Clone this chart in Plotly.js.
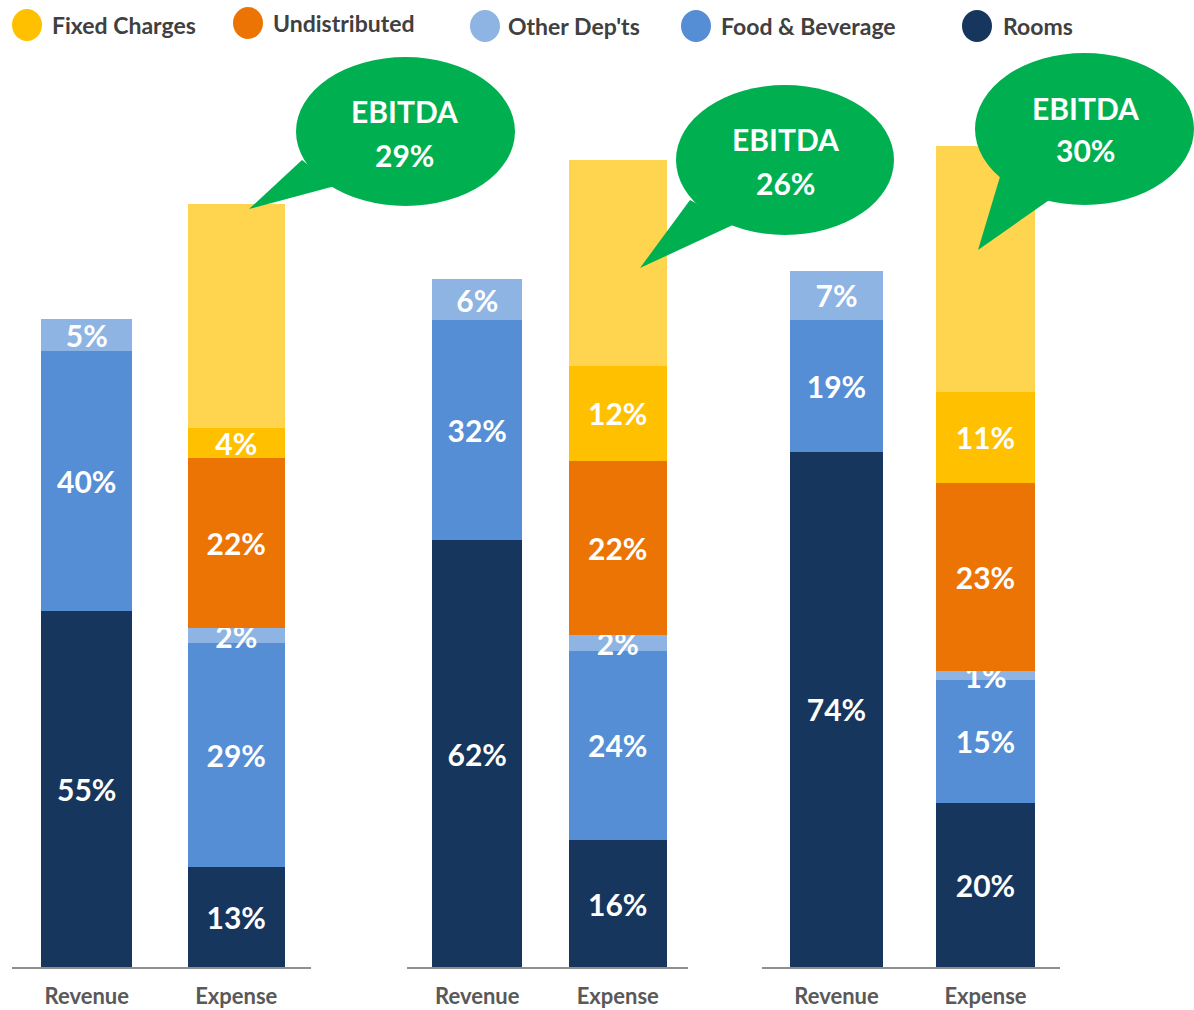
<!DOCTYPE html>
<html>
<head>
<meta charset="utf-8">
<script src="https://cdn.plot.ly/plotly-3.0.1.min.js"></script>
<style>html,body{margin:0;padding:0;background:#fff;}#chart{width:1194px;height:1010px;}</style>
</head>
<body>
<div id="chart"></div>
<script>
// ---- data ----
const barCategories = ['Revenue', 'Expense'];
const segmentNames = ['Rooms', 'Food & Beverage', "Other Dep'ts", 'Undistributed', 'Fixed Charges', 'EBITDA'];
// revenue mix (%) per group: Rooms, F&B, Other
const revenuePct = [[55, 40, 5], [62, 32, 6], [74, 19, 7]];
// expense mix (%) per group: Rooms, F&B, Other, Undistributed, Fixed, EBITDA
const expensePct = [[13, 29, 2, 22, 4, 29], [16, 24, 2, 22, 12, 26], [20, 15, 1, 23, 11, 30]];
// overall bar size (arbitrary units, as drawn)
const revenueTotal = [648, 688, 696];
const expenseTotal = [763, 807, 821];
const legendNames = ['Fixed Charges', 'Undistributed', "Other Dep'ts", 'Food & Beverage', 'Rooms'];

// ---- style ----
const colors = {
  'Rooms': '#17365D', 'Food & Beverage': '#558ED5', "Other Dep'ts": '#8DB4E2',
  'Undistributed': '#EC7405', 'Fixed Charges': '#FFC000', 'EBITDA': '#FFD550'
};
const FONT = 'Lato, "Open Sans", sans-serif';
const W = 1194, H = 1010, PLOT_H = 967;
const px = x => x / W;
const py = y => (PLOT_H - y) / PLOT_H;

const domains = [[12, 311], [407, 688], [762, 1060]];
const widths = [[0.61, 0.65], [0.64, 0.70], [0.62, 0.66]];

const traces = [];
for (let g = 0; g < 3; g++) {
  const rSum = revenuePct[g].reduce((a, b) => a + b, 0);
  const eSum = expensePct[g].reduce((a, b) => a + b, 0);
  const xa = g === 0 ? 'x' : 'x' + (g + 1);
  segmentNames.forEach((name, i) => {
    const rv = i < 3 ? revenuePct[g][i] : null;
    const ev = expensePct[g][i];
    traces.push({
      type: 'bar', xaxis: xa, yaxis: 'y', name: name, showlegend: false,
      x: barCategories,
      y: [rv === null ? null : rv / rSum * revenueTotal[g], ev / eSum * expenseTotal[g]],
      width: widths[g],
      text: name === 'EBITDA' ? ['', ''] : [rv === null ? '' : rv + '%', ev + '%'],
      texttemplate: '%{text}',
      textposition: 'inside', insidetextanchor: 'middle', constraintext: 'none', textangle: 0,
      textfont: {family: FONT, size: 30, color: '#ffffff', weight: 'bold'},
      marker: {color: colors[name], line: {width: 0}},
      hoverinfo: 'skip', cliponaxis: false
    });
  });
}

const axisBase = {
  type: 'category', showgrid: false, zeroline: false, showline: true,
  linecolor: '#8f8f8f', linewidth: 2, ticks: 'outside', ticklen: 9,
  tickcolor: 'rgba(0,0,0,0)', fixedrange: true,
  tickfont: {family: FONT, size: 22, color: '#595959', weight: 'bold'}
};
const layout = {
  width: W, height: H, margin: {l: 0, r: 0, t: 0, b: H - PLOT_H},
  paper_bgcolor: '#ffffff', plot_bgcolor: '#ffffff',
  barmode: 'stack', showlegend: false,
  yaxis: {range: [0, PLOT_H], visible: false, fixedrange: true},
  shapes: [], annotations: []
};
domains.forEach((d, g) => {
  const key = g === 0 ? 'xaxis' : 'xaxis' + (g + 1);
  layout[key] = Object.assign({}, axisBase, {domain: [px(d[0]), px(d[1])], anchor: 'y'});
});

// legend (circles + text)
const legendPos = [[27, 25, 50], [248, 23, 271], [485, 26, 506], [696, 26, 719], [977, 26, 1001]];
legendNames.forEach((n, i) => {
  const [cx, cy, tx] = legendPos[i];
  layout.shapes.push({type: 'circle', xref: 'paper', yref: 'paper',
    x0: px(cx - 15), x1: px(cx + 15), y0: py(cy - 16), y1: py(cy + 16),
    fillcolor: colors[n], line: {width: 0}});
  layout.annotations.push({xref: 'paper', yref: 'paper', x: px(tx), y: py(cy),
    xanchor: 'left', yanchor: 'middle', showarrow: false, text: n,
    font: {family: FONT, size: 23, color: '#404040', weight: 'bold'}});
});

// EBITDA callouts
const bubbles = [
  {x0: 296, x1: 515, y0: 57, y1: 206, tail: 'M302,160 L249,209 L335,186 Z', cx: 404, ty1: 111, ty2: 155},
  {x0: 676, x1: 894, y0: 85, y1: 235, tail: 'M690,200 L640,268 L735,224 Z', cx: 785, ty1: 139, ty2: 183},
  {x0: 975, x1: 1194, y0: 53, y1: 205, tail: 'M1002,170 L978,250 L1055,196 Z', cx: 1085, ty1: 108, ty2: 150}
];
const pathPaper = p => p.replace(/(\d+),(\d+)/g, (m, a, b) => px(+a) + ',' + py(+b));
bubbles.forEach((b, g) => {
  layout.shapes.push({type: 'path', xref: 'paper', yref: 'paper', path: pathPaper(b.tail),
    fillcolor: '#00B050', line: {width: 0}});
  layout.shapes.push({type: 'circle', xref: 'paper', yref: 'paper',
    x0: px(b.x0), x1: px(b.x1), y0: py(b.y1), y1: py(b.y0),
    fillcolor: '#00B050', line: {width: 0}});
  layout.annotations.push({xref: 'paper', yref: 'paper', x: px(b.cx), y: py(b.ty1),
    xanchor: 'center', yanchor: 'middle', showarrow: false, text: 'EBITDA',
    font: {family: FONT, size: 30, color: '#ffffff', weight: 'bold'}});
  layout.annotations.push({xref: 'paper', yref: 'paper', x: px(b.cx), y: py(b.ty2),
    xanchor: 'center', yanchor: 'middle', showarrow: false, text: expensePct[g][5] + '%',
    font: {family: FONT, size: 30, color: '#ffffff', weight: 'bold'}});
});

Plotly.newPlot('chart', traces, layout, {displayModeBar: false, staticPlot: true});
</script>
</body>
</html>
